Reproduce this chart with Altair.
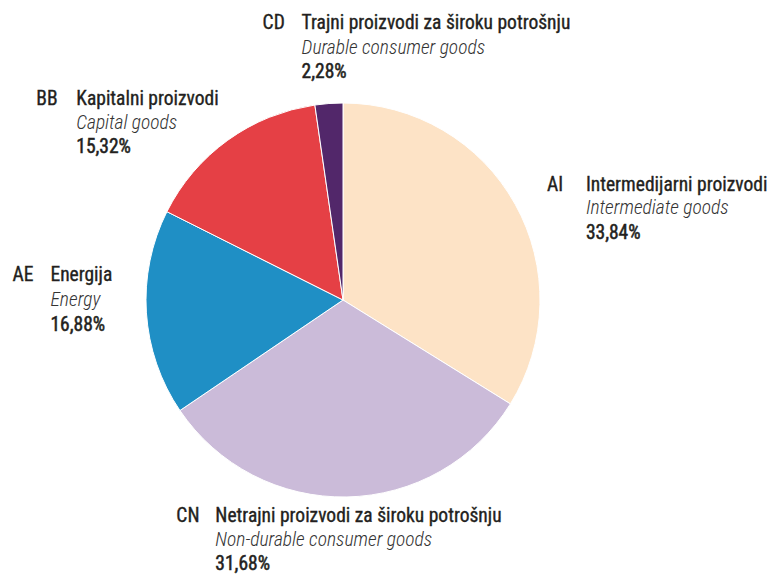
import altair as alt
import pandas as pd

codes = ["AI", "CN", "AE", "BB", "CD"]
names_hr = [
    "Intermedijarni proizvodi",
    "Netrajni proizvodi za široku potrošnju",
    "Energija",
    "Kapitalni proizvodi",
    "Trajni proizvodi za široku potrošnju",
]
names_en = [
    "Intermediate goods",
    "Non-durable consumer goods",
    "Energy",
    "Capital goods",
    "Durable consumer goods",
]
shares = [33.84, 31.68, 16.88, 15.32, 2.28]
colors = ["#FDE3C6", "#CBBBD9", "#1F8FC5", "#E54045", "#52276A"]

df = pd.DataFrame({
    "code": codes,
    "name": names_hr,
    "en": names_en,
    "share": shares,
    "order": list(range(len(codes))),
})
df["pct"] = df["share"].map(lambda v: f"{v:.2f}".replace(".", ",") + "%")

CX, CY = 335, 292
R = 197
R_LAB = 215
FONT = "Roboto Condensed, DejaVu Sans Condensed, sans-serif"
theta_scale = alt.Scale(domain=[0, 100])

pie = alt.Chart(df).mark_arc(outerRadius=R, stroke="white", strokeWidth=1).encode(
    theta=alt.Theta("share:Q", stack=True, scale=theta_scale),
    order=alt.Order("order:O"),
    color=alt.Color("code:N", scale=alt.Scale(domain=codes, range=colors), legend=None),
    x=alt.value(CX),
    y=alt.value(CY),
)

lab = alt.Chart(df).transform_window(
    cum="sum(share)", sort=[alt.SortField("order")]
).transform_calculate(
    mid="datum.cum - datum.share / 2"
).encode(
    theta=alt.Theta("mid:Q", scale=theta_scale),
    x=alt.value(CX),
    y=alt.value(CY),
)

# label layout per slice: dx of code, dx of name block, dy of three lines
layout = {
    "AI": (16, 55, (-10, 13, 38)),
    "CN": (-171, -132, (1, 25, 49)),
    "AE": (-116, -78, (-39, -14, 11)),
    "BB": (-181, -141, (-27, -3, 21)),
    "CD": (-65, -26, (-63, -38, -14)),
}

INK = "#231F20"
layers = [pie]
for c in codes:
    dxc, dxn, (d1, d2, d3) = layout[c]
    sub = lab.transform_filter(alt.datum.code == c)
    common = dict(radius=R_LAB, align="left", baseline="middle", font=FONT, fontSize=19.5)
    med = dict(color=INK, stroke=INK, strokeWidth=0.35)
    layers.append(sub.mark_text(dx=dxc, dy=d1, **med, **common).encode(text="code:N"))
    layers.append(sub.mark_text(dx=dxn, dy=d1, **med, **common).encode(text="name:N"))
    layers.append(sub.mark_text(dx=dxn, dy=d2, color="#333333", fontStyle="italic", fontWeight=300, **common).encode(text="en:N"))
    layers.append(sub.mark_text(dx=dxn, dy=d3, color=INK, stroke=INK, strokeWidth=0.5, **common).encode(text="pct:N"))

chart = alt.layer(*layers).properties(
    width=766, height=567, autosize="none", padding=0
).configure_view(stroke=None)

chart.save("out.html", embed_options={"renderer": "svg", "actions": False})
